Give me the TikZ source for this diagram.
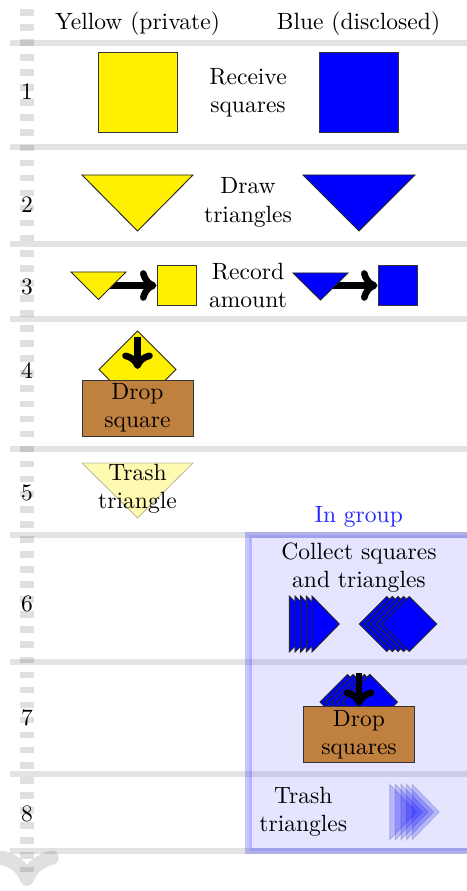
\documentclass[tikz,border=0pt]{standalone}
\usetikzlibrary{arrows.meta}
\definecolor{yel}{RGB}{255,240,0}
\definecolor{brn}{RGB}{192,128,64}
\begin{document}
\begin{tikzpicture}[x=0.425pt,y=-0.425pt,
  every node/.style={inner sep=0pt},
  hline/.style={draw=black,draw opacity=0.11,line width=2.4pt},
  lbl/.style={align=center},
  sq/.style={draw=black!80,line width=0.4pt,minimum size=#1,inner sep=0pt},
  shp/.style={draw=black!85,line width=0.4pt},
  bigarrow/.style={line width=2.8pt,-{Computer Modern Rightarrow[length=7pt,width=13pt]}},
  dropbox/.style={draw=black!80,line width=0.4pt,fill=brn,minimum width=47.2pt,minimum height=23.8pt,align=center}]
\useasboundingbox (0,0) rectangle (466,891);

% horizontal row separators
\foreach \y in {43,147,244,319,449,535,662,774,851}
  \draw[hline] (10,\y) -- (470,\y);

% group box
\draw[draw=blue,draw opacity=0.22,fill=blue,fill opacity=0.1,line width=2.6pt]
  (248.5,535) rectangle (480,851);
\node[text=blue!85] (ingroup) at (358.7,517) {In group};

% time axis
\coordinate (axtop) at (27,9);
\coordinate (axbot) at (27,886);
\draw[draw=black,draw opacity=0.12,line width=6pt,dash pattern=on 2.8pt off 3.6pt,
  -{Computer Modern Rightarrow[length=15pt,width=27pt]}] (axtop) -- (axbot);

% row numbers
\node (n1) at (27,92) {1};
\node (n2) at (27,205) {2};
\node (n3) at (27,287) {3};
\node (n4) at (27,371) {4};
\node (n5) at (27,492.5) {5};
\node (n6) at (27,604) {6};
\node (n7) at (27,718) {7};
\node (n8) at (27,814) {8};

% headers
\node[anchor=base] (hy) at (137.5,30) {Yellow (private)};
\node[anchor=base] (hb) at (358.5,30) {Blue (disclosed)};

% row 1
\node[sq=33.6pt,fill=yel] (ys1) at (137.5,92.5) {};
\node[sq=33.6pt,fill=blue] (bs1) at (359,92.5) {};
\node[lbl] (t1) at (248,92.5) {Receive\\squares};

% row 2
\draw[shp,fill=yel] (82,175) -- (193,175) -- (137.5,231) -- cycle;
\draw[shp,fill=blue] (303,175) -- (415,175) -- (359,231) -- cycle;
\node[lbl] (t2) at (248,202.5) {Draw\\triangles};

% row 3
\node[sq=16.6pt,fill=yel] (ys3) at (176.5,285.5) {};
\node[sq=16.6pt,fill=blue] (bs3) at (397.5,285.5) {};
\coordinate (ya) at (104,285.5);
\coordinate (ba) at (326,285.5);
\draw[bigarrow] (ya) -- (ys3.west);
\draw[bigarrow] (ba) -- (bs3.west);
\draw[shp,fill=yel] (71,272) -- (126,272) -- (98.5,299.5) -- cycle;
\draw[shp,fill=blue] (293,273) -- (348,273) -- (320.5,300) -- cycle;
\node[lbl] (t3) at (248,285.5) {Record\\amount};

% row 4
\draw[shp,fill=yel] (137.5,331) -- (176,369.5) -- (137.5,408) -- (99,369.5) -- cycle;
\coordinate (da1) at (137.5,337);
\coordinate (da2) at (137.5,369);
\draw[bigarrow] (da1) -- (da2);
\node[dropbox] (drop1) at (137.5,408) {Drop\\square};

% row 5
\draw[draw=black,draw opacity=0.25,fill=yel,fill opacity=0.3,line width=0.4pt]
  (82,463) -- (193,463) -- (137.5,518) -- cycle;
\node[lbl] (t5) at (137.5,489) {Trash\\triangle};

% row 6
\node[lbl] (t6) at (359,568) {Collect squares\\and triangles};
\foreach \i in {0,...,4}
  \draw[shp,fill=blue] ({289.3+5.67*\i},596) -- ({316.6+5.67*\i},624) -- ({289.3+5.67*\i},652) -- cycle;
\foreach \i in {0,...,4}
  \draw[shp,fill=blue] ({359.3+5.6*\i},624) -- ({386.8+5.6*\i},596.5) -- ({414.3+5.6*\i},624) -- ({386.8+5.6*\i},651.5) -- cycle;

% row 7
\foreach \i in {0,...,4}
  \draw[shp,fill=blue] ({320+5.6*\i},702) -- ({347.5+5.6*\i},674.5) -- ({375+5.6*\i},702) -- ({347.5+5.6*\i},729.5) -- cycle;
\coordinate (db1) at (359,673);
\coordinate (db2) at (359,706);
\draw[bigarrow] (db1) -- (db2);
\node[dropbox] (drop2) at (359,734.5) {Drop\\squares};

% row 8
\node[lbl] (t8) at (303.3,812) {Trash\\triangles};
\foreach \i in {0,...,4}
  \draw[draw=black,draw opacity=0.12,fill=blue,fill opacity=0.2,line width=0.4pt]
    ({389.6+5.6*\i},784) -- ({416.9+5.6*\i},812) -- ({389.6+5.6*\i},840) -- cycle;
\end{tikzpicture}
\end{document}
